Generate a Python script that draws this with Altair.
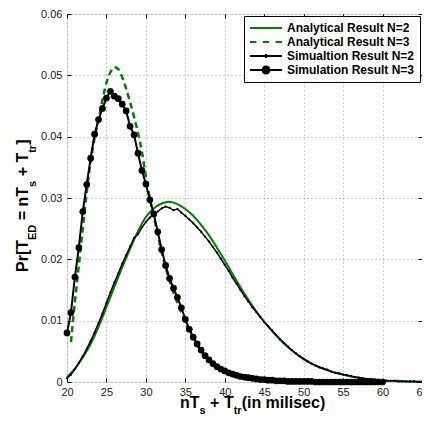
import altair as alt
import pandas as pd

# ---------------- data ----------------
X_TICKS = [20, 25, 30, 35, 40, 45, 50, 55, 60, 65]
Y_TICKS = [0, 0.01, 0.02, 0.03, 0.04, 0.05, 0.06]

LABELS = ["Analytical Result N=2", "Analytical Result N=3",
          "Simualtion Result N=2", "Simulation Result N=3"]

an2_x = [20, 21, 22, 23, 24, 25, 26, 27, 28, 29, 30, 31, 32, 33, 34, 35, 36, 37,
         38, 39, 40, 41, 42, 43, 44, 45, 46, 47, 48, 49, 50, 51, 52, 53, 54, 55,
         56, 57, 58, 59, 60, 61, 62, 63, 64, 65]
an2_y = [0.0008, 0.0022, 0.0040, 0.0062, 0.0090, 0.0122, 0.0155, 0.0187, 0.0217,
         0.0246, 0.0269, 0.0283, 0.0291, 0.0294, 0.0290, 0.0282, 0.0271, 0.0256,
         0.0239, 0.0219, 0.0198, 0.0176, 0.0154, 0.0134, 0.0115, 0.0098, 0.0083,
         0.0069, 0.0057, 0.0046, 0.0037, 0.0030, 0.0024, 0.0019, 0.0015, 0.0012,
         0.0009, 0.0007, 0.0005, 0.0004, 0.0003, 0.0002, 0.0002, 0.0001, 0.0001,
         0.0001]

an3_x = [20.5, 21, 21.5, 22, 22.5, 23, 23.5, 24, 24.5, 25, 25.5, 26, 26.5, 27,
         27.5, 28, 28.5, 29, 29.5, 30, 30.5, 31, 31.5, 32, 32.5, 33, 33.5, 34,
         34.5, 35, 35.5, 36, 36.5, 37, 37.5, 38, 38.5, 39, 39.5, 40, 40.5, 41,
         41.5, 42, 42.5, 43, 43.5, 44, 44.5, 45, 46, 47, 48, 50, 55, 60]
an3_y = [0.0065, 0.0130, 0.0190, 0.0250, 0.0310, 0.0360, 0.0398, 0.0428, 0.0460,
         0.0488, 0.0505, 0.0513, 0.0510, 0.0497, 0.0478, 0.0456, 0.0432, 0.0406,
         0.0375, 0.0335, 0.0300, 0.0270, 0.0240, 0.0212, 0.0187, 0.0165, 0.0146,
         0.0129, 0.0113, 0.0098, 0.0084, 0.0071, 0.0060, 0.0050, 0.0042, 0.0035,
         0.0029, 0.0024, 0.0019, 0.0016, 0.0013, 0.0010, 0.0008, 0.0007, 0.0005,
         0.0004, 0.0004, 0.0003, 0.0002, 0.0002, 0.0001, 0.0001, 0.0001, 0.0000,
         0.0000, 0.0000]

sim2_x = [20 + 0.5 * i for i in range(91)]
sim2_y = [0.0006, 0.0012, 0.0021, 0.0031, 0.0042, 0.0054, 0.0067, 0.0081, 0.0096,
          0.0112, 0.0129, 0.0146, 0.0162, 0.0177, 0.0193, 0.0207, 0.0221, 0.0235,
          0.0241, 0.0252, 0.0261, 0.0268, 0.0273, 0.0278, 0.0283, 0.0286, 0.0284,
          0.0280, 0.0282, 0.0276, 0.0271, 0.0265, 0.0259, 0.0252, 0.0245, 0.0237,
          0.0229, 0.0220, 0.0211, 0.0201, 0.0191, 0.0181, 0.0170, 0.0160, 0.0150,
          0.0140, 0.0131, 0.0122, 0.0114, 0.0106, 0.0098, 0.0091, 0.0084, 0.0077,
          0.0070, 0.0064, 0.0058, 0.0052, 0.0047, 0.0042, 0.0038, 0.0034, 0.0030,
          0.0027, 0.0024, 0.0022, 0.0020, 0.0017, 0.0015, 0.0014, 0.0012, 0.0011,
          0.0010, 0.0008, 0.0007, 0.0006, 0.0005, 0.0005, 0.0004, 0.0003, 0.0003,
          0.0002, 0.0002, 0.0002, 0.0001, 0.0001, 0.0001, 0.0001, 0.0001, 0.0000,
          0.0000]

sim3_x = [20 + 0.5 * i for i in range(81)]
sim3_y = [0.0080, 0.0113, 0.0171, 0.0219, 0.0278, 0.0322, 0.0365, 0.0404, 0.0428,
          0.0446, 0.0463, 0.0474, 0.0466, 0.0462, 0.0453, 0.0442, 0.0417, 0.0403,
          0.0373, 0.0345, 0.0323, 0.0297, 0.0274, 0.0245, 0.0216, 0.0190, 0.0169,
          0.0153, 0.0138, 0.0121, 0.0102, 0.0086, 0.0073, 0.0062, 0.0052, 0.0043,
          0.0036, 0.0030, 0.0025, 0.0021, 0.0018, 0.0015, 0.0013, 0.0011, 0.0009,
          0.0008, 0.0007, 0.0006, 0.0005, 0.0004, 0.0004, 0.0003, 0.0003, 0.0002,
          0.0002, 0.0002, 0.0001, 0.0001, 0.0001, 0.0001, 0.0001, 0.0001, 0.0001,
          0.0000, 0.0000, 0.0000, 0.0000, 0.0000, 0.0000, 0.0000, 0.0000, 0.0000,
          0.0000, 0.0000, 0.0000, 0.0000, 0.0000, 0.0000, 0.0000, 0.0000, 0.0000]

# ---------------- styling ----------------
GREEN = "#008000"
FONT = "Liberation Sans"
PLOT_W, PLOT_H = 355, 368
PAD = {"left": 59, "top": 6, "right": 0, "bottom": 33}

an2 = pd.DataFrame({"x": an2_x, "y": an2_y})
an3 = pd.DataFrame({"x": an3_x, "y": an3_y})
sim2 = pd.DataFrame({"x": sim2_x, "y": sim2_y})
sim3 = pd.DataFrame({"x": sim3_x, "y": sim3_y})

xs = alt.Scale(domain=[20, 65], nice=False, zero=False)
ys = alt.Scale(domain=[0, 0.06], nice=False, zero=False)


def enc(axx=None, axy=None):
    return dict(x=alt.X("x:Q", scale=xs, axis=axx), y=alt.Y("y:Q", scale=ys, axis=axy))


main_x_axis = alt.Axis(values=X_TICKS, format="d", title=None, ticks=False, domain=False,
                       grid=True, gridColor="#a0a0a0", gridDash=[1, 3], gridWidth=1,
                       labelFont=FONT, labelFontSize=11, labelColor="#222",
                       labelPadding=4, labelFlush=False, labelOverlap=False)
main_y_axis = alt.Axis(values=Y_TICKS, format=".2~f", title=None, ticks=False, domain=False,
                       grid=True, gridColor="#a0a0a0", gridDash=[1, 3], gridWidth=1,
                       labelFont=FONT, labelFontSize=11, labelColor="#222",
                       labelPadding=5, labelFlush=False, labelOverlap=False)


def tick_axis(orient, vals):
    return alt.Axis(orient=orient, values=vals, labels=False, ticks=True, tickSize=4,
                    offset=-4, domain=False, grid=False, title=None, tickColor="black",
                    tickWidth=1)


axes_main = alt.Chart(an2).mark_line(opacity=0).encode(**enc(main_x_axis, main_y_axis))
axes_tr = alt.Chart(an2).mark_line(opacity=0).encode(
    **enc(tick_axis("top", X_TICKS), tick_axis("right", Y_TICKS)))
axes_bl = alt.Chart(an2).mark_line(opacity=0).encode(
    **enc(tick_axis("bottom", X_TICKS), tick_axis("left", Y_TICKS)))

l_an2 = alt.Chart(an2).mark_line(color=GREEN, strokeWidth=2, interpolate="monotone").encode(**enc())
l_an3 = alt.Chart(an3).mark_line(color=GREEN, strokeWidth=2.5, strokeDash=[6, 4],
                                 interpolate="monotone").encode(**enc())
l_sim2 = alt.Chart(sim2).mark_line(color="black", strokeWidth=1.5).encode(**enc())
p_sim2 = alt.Chart(sim2).mark_point(filled=True, size=5, color="black", opacity=1).encode(**enc())
l_sim3 = alt.Chart(sim3).mark_line(
    color="black", strokeWidth=2,
    point=alt.OverlayMarkDef(filled=True, size=45, color="black", opacity=1)).encode(**enc())

# legend (built from a legend-only layer drawn off-canvas)
PATHS = ["M-1,0H1",
         "M-1,0H-0.6M-0.2,0H0.2M0.6,0H1",
         "M-1,0H1M0,-0.12V0.12",
         "M-1,0H1M0.22,0A0.22,0.22 0 1,1 -0.22,0A0.22,0.22 0 1,1 0.22,0Z"]
STROKES = [GREEN, GREEN, "black", "black"]
FILLS = [GREEN, GREEN, "black", "black"]
leg = alt.Legend(title=None, orient="top-right", offset=2, labelFont=FONT,
                 labelFontSize=12, labelFontWeight="bold", labelColor="black",
                 symbolSize=1024, symbolStrokeWidth=2, clipHeight=14, rowPadding=0,
                 labelOffset=4, padding=5, strokeColor="black", fillColor="white",
                 labelLimit=300, symbolOpacity=1)
leg_df = pd.DataFrame({"series": LABELS})
legend_layer = alt.Chart(leg_df).mark_point(filled=True, size=1024, strokeWidth=2,
                                            opacity=1).encode(
    x=alt.value(-800), y=alt.value(-800),
    shape=alt.Shape("series:N", scale=alt.Scale(domain=LABELS, range=PATHS), legend=leg),
    fill=alt.Fill("series:N", scale=alt.Scale(domain=LABELS, range=FILLS), legend=leg),
    stroke=alt.Stroke("series:N", scale=alt.Scale(domain=LABELS, range=STROKES), legend=leg),
)

# axis titles with subscripts, composed from text pieces
W = {"P": 667, "r": 389, "[": 333, "T": 611, "E": 667, "D": 722, " ": 278, "=": 584,
     "n": 611, "s": 556, "+": 584, "t": 333, "]": 333, "(": 333, "i": 278, "m": 889,
     "l": 278, "e": 556, "c": 556, ")": 333}


def tw(s, fs):
    return sum(W[c] for c in s) * fs / 1000.0


BIG, SMALL = 16, 11
x_pieces = [("nT", BIG), ("s", SMALL), (" + T", BIG), ("tr", SMALL), ("(in milisec)", BIG)]
y_pieces = [("Pr[T", BIG), ("ED", SMALL), (" = nT", BIG), ("s", SMALL), (" + T", BIG),
            ("tr", SMALL), ("]", BIG)]

title_layers = []
one = alt.Data(values=[{"a": 1}])
pos = 113.0
for txt, fs in x_pieces:
    yy = 394 if fs == BIG else 400
    lead = len(txt) - len(txt.lstrip(" "))
    start = pos + tw(" " * lead, fs)
    title_layers.append(alt.Chart(one).mark_text(
        align="left", baseline="alphabetic", font=FONT, fontWeight="bold",
        fontSize=fs, color="black").encode(x=alt.value(start), y=alt.value(yy),
                                           text=alt.value(txt.lstrip(" "))))
    pos += tw(txt, fs)

pos = 258.0
for txt, fs in y_pieces:
    xx = -39 if fs == BIG else -31
    lead = len(txt) - len(txt.lstrip(" "))
    start = pos - tw(" " * lead, fs)
    title_layers.append(alt.Chart(one).mark_text(
        align="left", baseline="alphabetic", font=FONT, fontWeight="bold",
        fontSize=fs, color="black", angle=270).encode(x=alt.value(xx), y=alt.value(start),
                                                      text=alt.value(txt.lstrip(" "))))
    pos -= tw(txt, fs)

chart = alt.layer(
    axes_main, axes_tr, axes_bl, l_an2, l_an3, l_sim2, p_sim2, l_sim3, legend_layer,
    *title_layers
).resolve_axis(x="independent", y="independent").properties(
    width=PLOT_W, height=PLOT_H, autosize=alt.AutoSizeParams(type="none"),
    padding=PAD
).configure_view(stroke="black", strokeWidth=1).configure_legend(
    labelFont=FONT, labelFontSize=12, labelFontWeight="bold", labelColor="black",
    symbolOpacity=1
).configure(background="white")

chart.save("out.html", embed_options={"renderer": "svg", "actions": False})
